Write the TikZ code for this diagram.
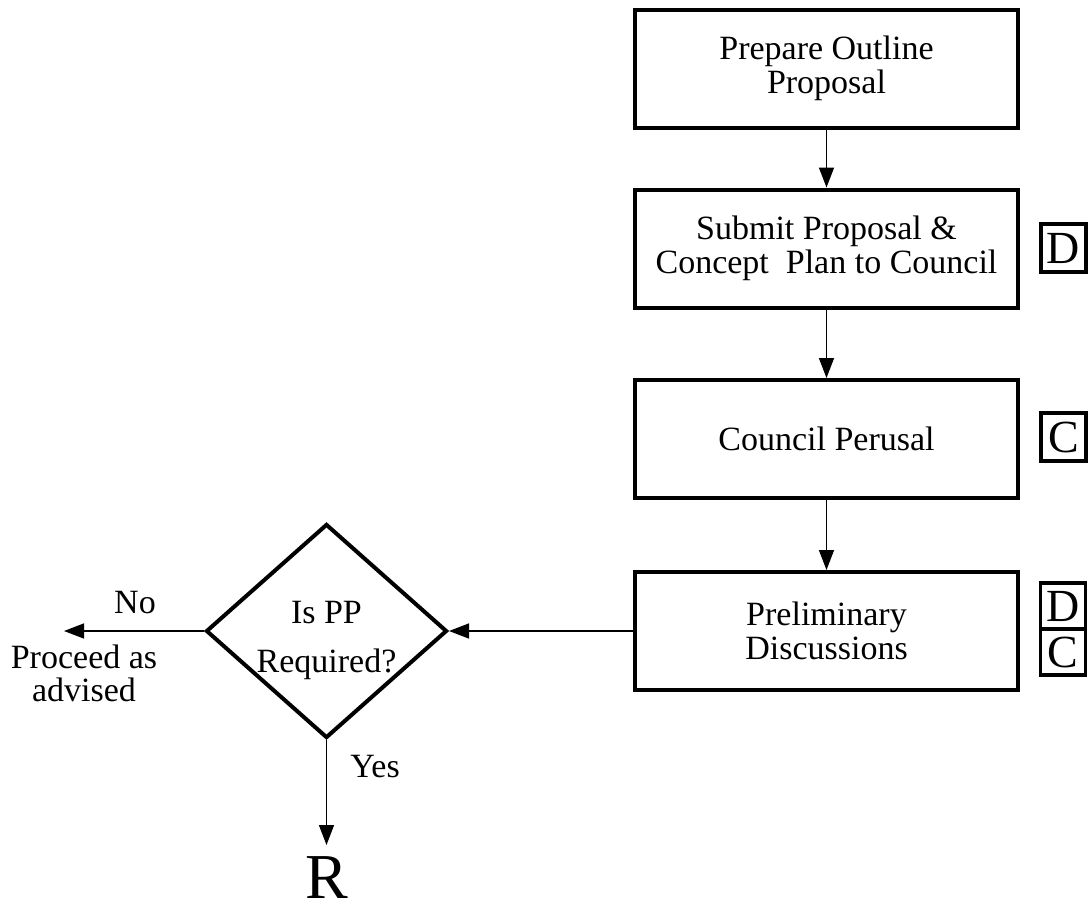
\documentclass[tikz,border=0pt]{standalone}
\usepackage{fontspec}
\setmainfont{Liberation Serif}
\usetikzlibrary{arrows.meta,shapes.geometric}
\tikzset{
  stepbox/.style={draw, line width=4pt, minimum width=383pt, minimum height=118pt, inner sep=0pt, align=center, font=\fontsize{34}{34}\selectfont},
  tagbox/.style={draw, line width=3.5pt, minimum width=45pt, minimum height=48pt, inner sep=0pt, font=\fontsize{46}{46}\selectfont},
  decision/.style={draw, shape=diamond, line width=4pt, minimum width=241pt, minimum height=214pt, inner sep=0pt, shape aspect=1.126},
  lbl/.style={align=center, inner sep=0pt, font=\fontsize{34}{34}\selectfont},
  conn/.style={line width=1.5pt, -{Triangle[length=20pt,width=15pt]}}
}
\begin{document}
\begin{tikzpicture}[x=1pt,y=-1pt]
\useasboundingbox (0,0) rectangle (1088,911);
\node[stepbox] (b1) at (826.5,68.5) {Prepare Outline\\Proposal};
\node[stepbox] (b2) at (826.5,248.5) {Submit Proposal \&\\Concept\ \ Plan to Council};
\node[stepbox] (b3) at (826.5,439) {Council Perusal};
\node[stepbox] (b4) at (826.5,631) {Preliminary\\Discussions};
\node[tagbox] (t2) at (1063.5,248) {D};
\node[tagbox] (t3) at (1063.5,437) {C};
\node[tagbox, minimum height=46pt] (t4d) at (1063,606) {D};
\node[tagbox, minimum height=46pt] (t4c) at (1063,652) {C};
\node[decision] (dia) at (326.5,631) {};
\node[lbl, font=\fontsize{34}{49}\selectfont] (q) at (326.5,640) {Is PP\\Required?};
\coordinate (noend) at (64,631);
\coordinate (yesend) at (326.5,845);
\draw[conn] (b1.south) -- (b2.north);
\draw[conn] (b2.south) -- (b3.north);
\draw[conn] (b3.south) -- (b4.north);
\draw[conn] (b4.west) -- (dia.east);
\draw[conn] (dia.west) -- (noend);
\draw[conn] (dia.south) -- (yesend);
\node[lbl] (no) at (135,603) {No};
\node[lbl, font=\fontsize{34}{33}\selectfont] (proc) at (84,673) {Proceed as\\advised};
\node[lbl] (yes) at (375,767) {Yes};
\node[lbl, font=\fontsize{64}{64}\selectfont] (r) at (326.5,878) {R};
\end{tikzpicture}
\end{document}
